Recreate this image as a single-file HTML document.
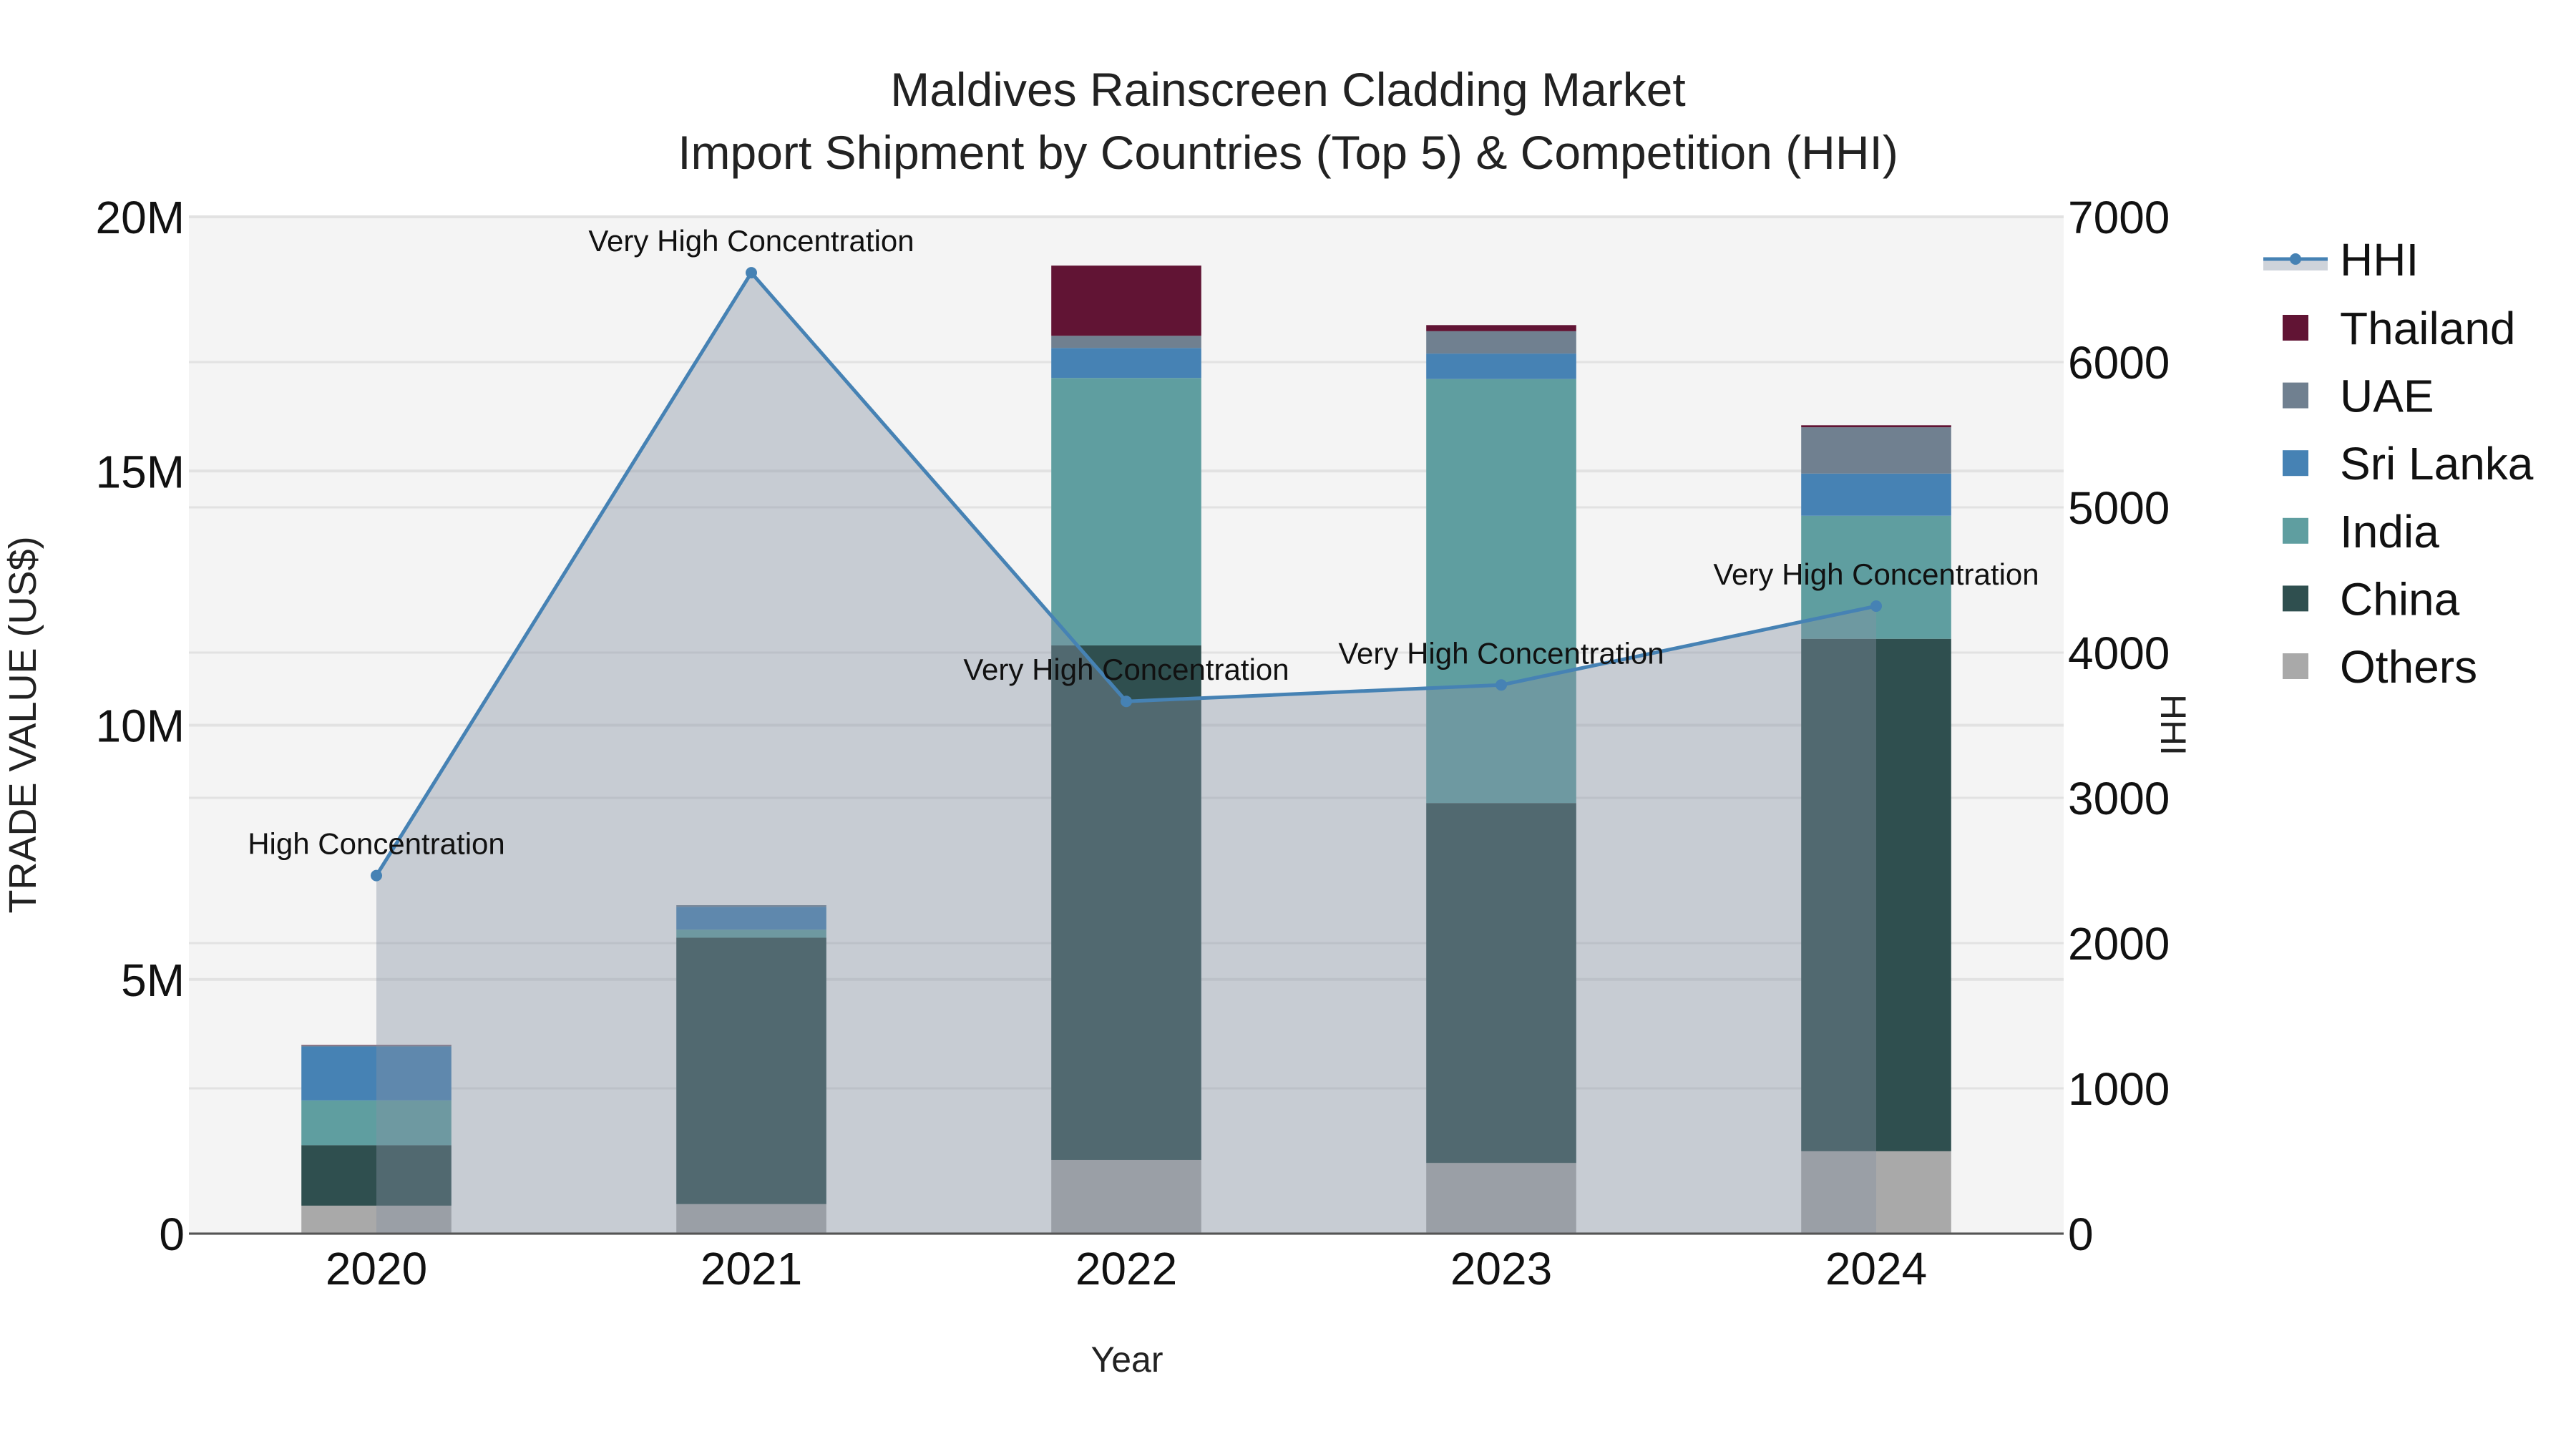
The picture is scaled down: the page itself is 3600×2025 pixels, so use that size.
<!DOCTYPE html>
<html><head><meta charset="utf-8"><style>
html,body{margin:0;padding:0;background:#fff;}
svg{display:block;font-family:"Liberation Sans",Arial,sans-serif;}
</style></head><body>
<svg id="chart" width="3600" height="2025" viewBox="0 0 3600 2025" xmlns="http://www.w3.org/2000/svg">
<rect x="264" y="303" width="2620" height="1421" fill="#f4f4f4"/>
<g id="grid"></g>
<g id="bars"></g>
<g id="hhi"></g>
<line x1="264" y1="1724" x2="2884" y2="1724" stroke="#555" stroke-width="3"/>
<g id="ticks" font-size="64" fill="#111"></g>
<text x="1800" y="148" font-size="66" text-anchor="middle" fill="#222">Maldives Rainscreen Cladding Market</text>
<text x="1800" y="236" font-size="66" text-anchor="middle" fill="#222">Import Shipment by Countries (Top 5) &amp; Competition (HHI)</text>
<text x="1575" y="1917" font-size="50" text-anchor="middle" fill="#222">Year</text>
<text transform="translate(50,1013) rotate(-90)" font-size="54" text-anchor="middle" fill="#222">TRADE VALUE (US$)</text>
<text transform="translate(3020,1013) rotate(90)" font-size="50" text-anchor="middle" fill="#222">HHI</text>
<g id="legend" font-size="64" fill="#111"></g>
</svg>
<script>
const years = ["2020","2021","2022","2023","2024"];
const seriesNames = ["Others","China","India","Sri Lanka","UAE","Thailand"];
const others   = [0.55, 0.58, 1.45, 1.39, 1.62];
const china    = [1.19, 5.24, 10.12, 7.08, 10.08];
const india    = [0.88, 0.16, 5.26, 8.34, 2.42];
const sriLanka = [1.06, 0.45, 0.59, 0.50, 0.83];
const uae      = [0.02, 0.03, 0.24, 0.44, 0.91];
const thailand = [0.01, 0.00, 1.38, 0.12, 0.04];
const hhi = [2465, 6615, 3664, 3777, 4320];
const hhiLabels = ["High Concentration","Very High Concentration","Very High Concentration","Very High Concentration","Very High Concentration"];
const leftTicks = [0,5,10,15,20];
const leftTickLabels = ["0","5M","10M","15M","20M"];
const rightTicks = [0,1000,2000,3000,4000,5000,6000,7000];
const colors = ["#a9a9a9","#2f4f4f","#5f9ea0","#4682b4","#708090","#611434"];

const NS="http://www.w3.org/2000/svg";
const L=264,R=2884,T=303,B=1724;
const step=(R-L)/years.length;
function xPos(i){return L+step*(i+0.5);}
function yL(v){return B-(v/20)*(B-T);}
function yR(v){return B-(v/7000)*(B-T);}
function mk(tag,attrs,parent){const e=document.createElementNS(NS,tag);for(const k in attrs)e.setAttribute(k,attrs[k]);parent.appendChild(e);return e;}

const grid=document.getElementById('grid');
leftTicks.forEach(function(t){
  const g=mk('line',{x1:L,x2:R,y1:yL(t),y2:yL(t),stroke:'#e2e2e2','stroke-width':4},grid);
  
  
});
rightTicks.forEach(function(t){
  const g=mk('line',{x1:L,x2:R,y1:yR(t),y2:yR(t),stroke:'#e2e2e2','stroke-width':3},grid);
  
  
});

const bars=document.getElementById('bars');
const allSeries=[others,china,india,sriLanka,uae,thailand];
const bw=step*0.4;
years.forEach(function(y,i){
  let base=0;
  allSeries.forEach(function(s,k){
    const v=s[i];
    const r=mk('rect',{x:xPos(i)-bw/2,y:yL(base+v),width:bw,height:yL(base)-yL(base+v),fill:colors[k]},bars);
    
    
    base+=v;
  });
});

const hg=document.getElementById('hhi');
let pts=hhi.map(function(v,i){return xPos(i)+','+yR(v);});
const area=mk('polygon',{points:xPos(0)+','+B+' '+pts.join(' ')+' '+xPos(hhi.length-1)+','+B,fill:'rgb(133,146,163)','fill-opacity':0.4},hg);


const line=mk('polyline',{points:pts.join(' '),fill:'none',stroke:'#4682b4','stroke-width':5},hg);


hhi.forEach(function(v,i){
  const c=mk('circle',{cx:xPos(i),cy:yR(v),r:8,fill:'#4682b4'},hg);
  
  
  const t=mk('text',{x:xPos(i),y:yR(v)-30,'font-size':42,'text-anchor':'middle',fill:'#111'},hg);
  t.textContent=hhiLabels[i];
  
  
});

const tk=document.getElementById('ticks');
leftTicks.forEach(function(t,i){
  const e=mk('text',{x:258,y:yL(t)+23,'text-anchor':'end'},tk);
  e.textContent=leftTickLabels[i];
  
  
});
rightTicks.forEach(function(t){
  const e=mk('text',{x:2890,y:yR(t)+23,'text-anchor':'start'},tk);
  e.textContent=String(t);
  
  
});
years.forEach(function(y,i){
  const e=mk('text',{x:xPos(i),y:1795,'text-anchor':'middle'},tk);
  e.textContent=y;
  
  
});

const lg=document.getElementById('legend');
const hr=mk('rect',{x:3163,y:362,width:90,height:16,fill:'rgb(133,146,163)','fill-opacity':0.4},lg);


const hl=mk('line',{x1:3163,x2:3253,y1:362,y2:362,stroke:'#4682b4','stroke-width':5},lg);


const hc=mk('circle',{cx:3208,cy:362,r:8,fill:'#4682b4'},lg);


const ht=mk('text',{x:3270,y:385},lg);
ht.textContent='HHI';


const legOrder=[5,4,3,2,1,0];
legOrder.forEach(function(k,j){
  const cy=458+j*94.6;
  const s=mk('rect',{x:3190,y:cy-18,width:36,height:36,fill:colors[k]},lg);
  
  
  const t=mk('text',{x:3270,y:cy+23},lg);
  t.textContent=seriesNames[k];
  
  
});
</script>
</body></html>
